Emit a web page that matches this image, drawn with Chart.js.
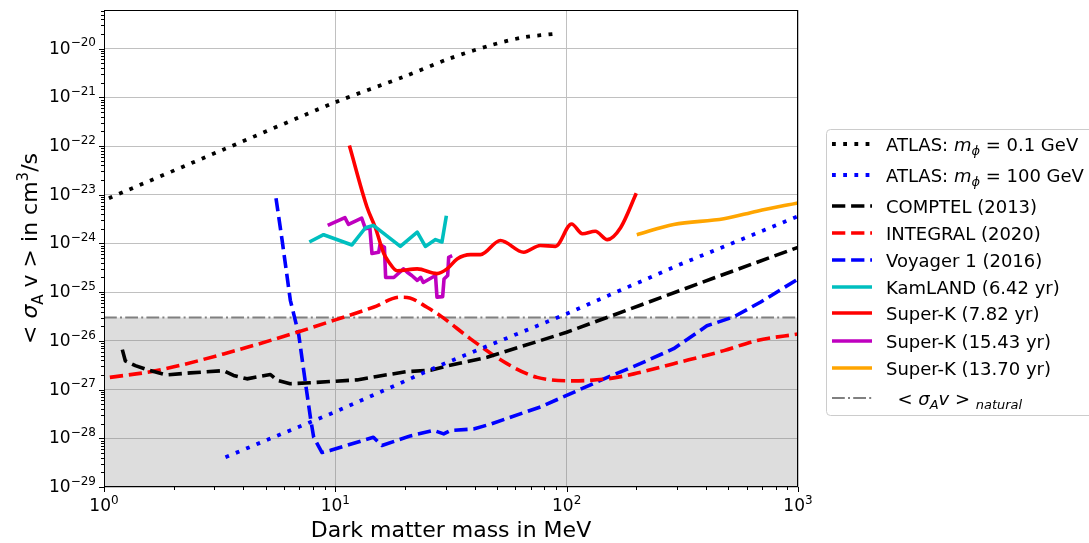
<!DOCTYPE html>
<html>
<head>
<meta charset="utf-8">
<script src="https://cdn.jsdelivr.net/npm/chart.js@4.4.0/dist/chart.umd.min.js"></script>
<style>
  html, body { margin: 0; background: #fff; }
  #wrap { width: 1089px; height: 543px; }
</style>
</head>
<body>
<div id="wrap"><canvas id="c" width="1089" height="543"></canvas></div>
<script>
// dark matter mass (MeV) vs. <sigma v> (cm^3/s) limits

const atlasLightX = [1.05, 3.29, 10, 20, 31, 47, 65, 91.5];
const atlasLightY = [8.5e-24, 8.5e-23, 7.9e-22, 2.7e-21, 6.2e-21, 1.17e-20, 1.7e-20, 2.04e-20];

const atlasHeavyX = [3.35, 10, 30, 100, 300, 1000];
const atlasHeavyY = [4.1e-29, 3.5e-28, 3.5e-27, 3.6e-26, 3.5e-25, 3.6e-24];

const comptelX = [1.2, 1.236, 1.366, 1.56, 1.87, 2.36, 3.29, 3.63, 4.15, 5.24, 5.6, 6.38, 7.8,
                  12.4, 15.1, 20.4, 25.8, 30.9, 45.3, 100, 208, 510, 1000];
const comptelY = [6.6e-27, 3.9e-27, 3.1e-27, 2.5e-27, 2.0e-27, 2.2e-27, 2.45e-27, 1.95e-27, 1.66e-27,
                  2.04e-27, 1.55e-27, 1.32e-27, 1.38e-27, 1.58e-27, 1.86e-27, 2.34e-27, 2.5e-27,
                  3.1e-27, 4.6e-27, 1.5e-26, 5.4e-26, 2.6e-25, 8.3e-25];

const integralX = [1.06, 1.69, 3.29, 6.83, 10, 14.6, 19.1, 21, 24.9, 28.4, 38.4, 55.2, 74.5,
                   107, 150, 195, 290, 478, 665, 1000];
const integralY = [1.78e-27, 2.45e-27, 5.4e-27, 1.5e-26, 2.7e-26, 4.9e-26, 7.9e-26, 7.6e-26, 4.9e-26,
                   3.3e-26, 1.1e-26, 3.4e-27, 1.78e-27, 1.51e-27, 1.66e-27, 2.1e-27, 3.4e-27,
                   6.3e-27, 1.02e-26, 1.38e-26];

const voyagerX = [5.54, 5.89, 6.39, 6.94, 7.30, 7.80, 8.06, 8.76, 9.48, 14.6, 15.9, 21.1, 26.6, 29.4,
                  31.5, 39.6, 46.8, 77, 100, 150, 208, 290, 404, 527, 687, 1000];
const voyagerY = [8.5e-24, 1.15e-24, 6.8e-26, 1.38e-26, 2.45e-27, 2.7e-28, 1.05e-28, 5.1e-29, 5.6e-29,
                  1.05e-28, 7.1e-29, 1.12e-28, 1.45e-28, 1.23e-28, 1.45e-28, 1.55e-28, 1.95e-28,
                  4.4e-28, 7.6e-28, 1.78e-27, 3.4e-27, 6.9e-27, 2.04e-26, 3.1e-26, 6.2e-26, 1.86e-25];

const kamlandX = [7.72, 8.9, 11.8, 13.5, 14.6, 19.1, 22.6, 24.5, 27.1, 28.9, 30.2];
const kamlandY = [1.07e-24, 1.51e-24, 9.3e-25, 2.1e-24, 2.35e-24, 8.7e-25, 1.7e-24, 8.7e-25,
                  1.2e-24, 1.07e-24, 3.7e-24];

const superK782X = [11.5, 13.7, 14.9, 16.2, 17.0, 18.5, 22.6, 27.5, 30.4, 33.6, 38.4, 42.4, 51.7,
                    65.2, 76.9, 89.4, 105, 117, 133, 150, 171, 200];
const superK782Y = [1.02e-22, 5.6e-24, 2.1e-24, 6.2e-25, 4.2e-25, 2.75e-25, 3.0e-25, 2.4e-25, 3.0e-25,
                    4.8e-25, 5.9e-25, 5.9e-25, 1.15e-24, 6.6e-25, 9.1e-25, 8.7e-25, 2.5e-24,
                    1.58e-24, 1.78e-24, 1.2e-24, 2.1e-24, 1.07e-23];

const superK1543X = [9.27, 11.0, 11.4, 13.0, 13.5, 14.1, 14.4, 15.4, 15.6, 16.3, 16.5, 17.9, 19.7,
                     20.4, 21.4, 22.6, 23.4, 24.0, 27.1, 27.5, 29.1, 29.5, 30.6, 30.9, 32.0];
const superK1543Y = [2.35e-24, 3.4e-24, 2.45e-24, 3.3e-24, 2.0e-24, 2.1e-24, 6.2e-25, 6.6e-25,
                     9.5e-25, 8.3e-25, 2.0e-25, 2.0e-25, 3.0e-25, 2.6e-25, 2.2e-25, 1.74e-25,
                     2.0e-25, 1.58e-25, 2.2e-25, 7.9e-26, 8.1e-26, 1.86e-25, 2.2e-25, 5.2e-25, 5.6e-25];

const superK1370X = [201, 290, 478, 665, 1000];
const superK1370Y = [1.51e-24, 2.45e-24, 3.2e-24, 4.6e-24, 6.8e-24];

const naturalX = [1, 1000];
const naturalY = [3e-26, 3e-26];

const xTickValues = [1, 10, 100, 1000];
const yTickValues = [1e-29, 1e-28, 1e-27, 1e-26, 1e-25, 1e-24, 1e-23, 1e-22, 1e-21, 1e-20];

const FONT = "'DejaVu Sans', sans-serif";
const LW = 3.6;
const DOTTED = [3.8, 7.4];
const DASHED = [13.3, 5.8];
const DASHDOT = [12.8, 3.2, 2, 3.2];

const pts = (xs, ys) => xs.map((x, i) => ({ x, y: ys[i] }));

function line(label, xs, ys, color, dash, extra = {}) {
  return Object.assign({
    label,
    data: pts(xs, ys),
    borderColor: color,
    backgroundColor: color,
    borderWidth: LW,
    borderDash: dash,
    borderCapStyle: 'butt',
    borderJoinStyle: 'round',
    pointRadius: 0,
    fill: false,
    tension: 0
  }, extra);
}

const datasets = [
  line('ATLAS 0.1', atlasLightX, atlasLightY, '#000000', DOTTED, { tension: 0.3, borderWidth: 3.8 }),
  line('ATLAS 100', atlasHeavyX, atlasHeavyY, '#0000ff', DOTTED, { borderWidth: 3.8 }),
  line('COMPTEL', comptelX, comptelY, '#000000', DASHED),
  line('INTEGRAL', integralX, integralY, '#ff0000', DASHED, { cubicInterpolationMode: 'monotone' }),
  line('Voyager', voyagerX, voyagerY, '#0000ff', DASHED),
  line('KamLAND', kamlandX, kamlandY, '#00bfbf', []),
  line('SK 7.82', superK782X, superK782Y, '#ff0000', [], { cubicInterpolationMode: 'monotone' }),
  line('SK 15.43', superK1543X, superK1543Y, '#bf00bf', []),
  line('SK 13.70', superK1370X, superK1370Y, '#ffa500', [], { cubicInterpolationMode: 'monotone' }),
  line('natural', naturalX, naturalY, '#808080', DASHDOT, {
    borderWidth: 2,
    fill: 'start',
    backgroundColor: 'rgba(128,128,128,0.27)',
    order: 10
  })
];

// legend entries: runs of [text, style] where style is n / i / sub / subi
const legendItems = [
  { color: '#000000', dash: DOTTED, lw: 3.8, runs: [['ATLAS: ', 'n'], ['m', 'i'], ['ϕ', 'subi'], [' = 0.1 GeV', 'n']] },
  { color: '#0000ff', dash: DOTTED, lw: 3.8, runs: [['ATLAS: ', 'n'], ['m', 'i'], ['ϕ', 'subi'], [' = 100 GeV', 'n']] },
  { color: '#000000', dash: DASHED, lw: LW, runs: [['COMPTEL (2013)', 'n']] },
  { color: '#ff0000', dash: DASHED, lw: LW, runs: [['INTEGRAL (2020)', 'n']] },
  { color: '#0000ff', dash: DASHED, lw: LW, runs: [['Voyager 1 (2016)', 'n']] },
  { color: '#00bfbf', dash: [], lw: LW, runs: [['KamLAND (6.42 yr)', 'n']] },
  { color: '#ff0000', dash: [], lw: LW, runs: [['Super-K (7.82 yr)', 'n']] },
  { color: '#bf00bf', dash: [], lw: LW, runs: [['Super-K (15.43 yr)', 'n']] },
  { color: '#ffa500', dash: [], lw: LW, runs: [['Super-K (13.70 yr)', 'n']] },
  { color: '#808080', dash: DASHDOT, lw: 2, runs: [['  < ', 'n'], ['σ', 'i'], ['A', 'subi'], ['v', 'i'], [' > ', 'n'], ['natural', 'subi']] }
];
const legendRowY = [144, 175, 206, 233, 260, 287, 313, 341, 368, 398];

function runFont(style, size) {
  if (style === 'i') return `italic ${size}px ${FONT}`;
  if (style === 'subi') return `italic ${Math.round(size * 0.7)}px ${FONT}`;
  if (style === 'sub' || style === 'sup') return `${Math.round(size * 0.7)}px ${FONT}`;
  return `${size}px ${FONT}`;
}

function drawRuns(ctx, runs, x, y, size) {
  let cx = x;
  for (const [t, style] of runs) {
    ctx.font = runFont(style, size);
    let dy = 0;
    if (style === 'sub' || style === 'subi') dy = size * 0.25;
    if (style === 'sup') dy = -size * 0.42;
    ctx.fillText(t, cx, y + dy);
    cx += ctx.measureText(t).width;
  }
  return cx - x;
}

function runsWidth(ctx, runs, size) {
  let w = 0;
  for (const [t, style] of runs) {
    ctx.font = runFont(style, size);
    w += ctx.measureText(t).width;
  }
  return w;
}

const expText = v => String(Math.round(Math.log10(v))).replace('-', '\u2212');

const decorations = {
  id: 'decorations',
  afterDraw(chart) {
    const { ctx, chartArea: a, scales } = chart;
    const xs = scales.x, ys = scales.y;
    ctx.save();

    // frame
    ctx.strokeStyle = '#000';
    ctx.lineWidth = 1;
    ctx.setLineDash([]);
    ctx.strokeRect(a.left + 0.5, a.top + 0.5, a.right - a.left - 1, a.bottom - a.top - 1);

    // major + minor tick marks
    ctx.beginPath();
    for (let e = 0; e < 3; e++) {
      for (let m = 1; m <= 10; m++) {
        const v = m * Math.pow(10, e);
        const px = Math.round(xs.getPixelForValue(v)) + 0.5;
        const len = (m === 1 || m === 10) ? 5 : 3;
        ctx.moveTo(px, a.bottom);
        ctx.lineTo(px, a.bottom + len);
      }
    }
    for (let e = -29; e <= -20; e++) {
      for (let m = 1; m <= 9; m++) {
        const v = m * Math.pow(10, e);
        if (v > ys.max) break;
        const py = Math.round(ys.getPixelForValue(v)) + 0.5;
        const len = m === 1 ? 5 : 3;
        ctx.moveTo(a.left, py);
        ctx.lineTo(a.left - len, py);
      }
    }
    ctx.stroke();

    // tick labels
    ctx.fillStyle = '#000';
    ctx.textBaseline = 'alphabetic';
    ctx.textAlign = 'left';
    for (const v of xTickValues) {
      const px = xs.getPixelForValue(v);
      const runs = [['10', 'n'], [expText(v), 'sup']];
      const w = runsWidth(ctx, runs, 17);
      drawRuns(ctx, runs, px - w / 2, a.bottom + 24, 17);
    }
    for (const v of yTickValues) {
      const py = ys.getPixelForValue(v);
      const runs = [['10', 'n'], [expText(v), 'sup']];
      const w = runsWidth(ctx, runs, 17);
      drawRuns(ctx, runs, 96 - w, py + 5, 17);
    }

    // axis titles
    ctx.font = `22px ${FONT}`;
    const xt = 'Dark matter mass in MeV';
    ctx.fillText(xt, (a.left + a.right) / 2 - ctx.measureText(xt).width / 2, 537);

    const yRuns = [['< ', 'n'], ['σ', 'i'], ['A', 'sub'], [' v > in cm', 'n'], ['3', 'sup'], ['/s', 'n']];
    ctx.save();
    ctx.translate(37, (a.top + a.bottom) / 2);
    ctx.rotate(-Math.PI / 2);
    const yw = runsWidth(ctx, yRuns, 22);
    drawRuns(ctx, yRuns, -yw / 2, 0, 22);
    ctx.restore();

    // legend
    const lx = 826, ly = 129, lh = 286;
    ctx.beginPath();
    ctx.roundRect(lx + 0.5, ly + 0.5, 300, lh, 4);
    ctx.fillStyle = 'rgba(255,255,255,0.85)';
    ctx.fill();
    ctx.strokeStyle = '#cccccc';
    ctx.lineWidth = 1;
    ctx.stroke();

    legendItems.forEach((item, i) => {
      const y = legendRowY[i];
      ctx.beginPath();
      ctx.strokeStyle = item.color;
      ctx.lineWidth = item.lw;
      ctx.lineCap = 'butt';
      ctx.setLineDash(item.dash);
      ctx.moveTo(832, y);
      ctx.lineTo(872, y);
      ctx.stroke();
      ctx.setLineDash([]);
      ctx.fillStyle = '#000';
      drawRuns(ctx, item.runs, 886, y + 6.5, 18);
    });

    ctx.restore();
  }
};

new Chart(document.getElementById('c'), {
  type: 'line',
  data: { datasets },
  options: {
    responsive: false,
    animation: false,
    devicePixelRatio: 1,
    layout: { padding: { left: 0, top: 10, right: 291, bottom: 0 } },
    plugins: { legend: { display: false }, tooltip: { enabled: false } },
    scales: {
      x: {
        type: 'logarithmic',
        min: 1,
        max: 1000,
        border: { display: false },
        grid: { color: '#c0c0c0', lineWidth: 1, drawTicks: false },
        ticks: { display: false },
        afterBuildTicks: s => { s.ticks = xTickValues.map(v => ({ value: v, major: true })); },
        afterFit: s => { s.height = 56; }
      },
      y: {
        type: 'logarithmic',
        min: 1e-29,
        max: 6.2e-20,
        border: { display: false },
        grid: { color: '#c0c0c0', lineWidth: 1, drawTicks: false },
        ticks: { display: false },
        afterBuildTicks: s => { s.ticks = yTickValues.map(v => ({ value: v, major: true })); },
        afterFit: s => { s.width = 104; }
      }
    }
  },
  plugins: [decorations]
});
</script>
</body>
</html>
